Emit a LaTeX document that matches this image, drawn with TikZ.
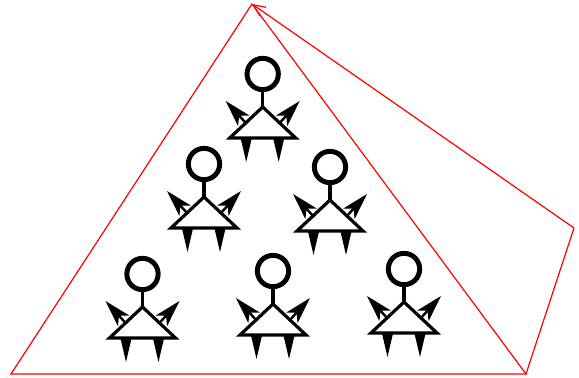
\documentclass[tikz,border=0pt]{standalone}
\usetikzlibrary{arrows.meta}
\tikzset{
    headdot/.style={circle,draw=black,line width=3.7pt,minimum size=23.5pt,inner sep=0pt},
    bodyline/.style={black,line width=2.4pt,line join=miter},
    limbarrow/.style={-{Stealth[length=20pt,width=11.5pt,inset=5pt]},black,line width=1.8pt},
    legarrow/.style={-{Stealth[length=17.5pt,width=8pt,inset=0.5pt]},black,line width=1pt},
    boundary/.style={red,line width=0.9pt,line join=miter}
}
\begin{document}
\begin{tikzpicture}[x=0.75pt,y=-0.75pt]
    \useasboundingbox (0,0) rectangle (579,378);
    % people
    \foreach \px/\py [count=\i] in {262.7/74,204/164,330/167,142.5/274,273/271,404/269} {
        \begin{scope}[shift={(\px,\py)}]
            \node[headdot] (head\i) at (0,0) {};
            \coordinate (neck\i) at (0,33);
            \coordinate (lefthip\i) at (-33,64);
            \coordinate (righthip\i) at (33,64);
            \draw[bodyline] (head\i) -- (neck\i);
            \draw[bodyline] (neck\i) -- (lefthip\i) -- (righthip\i) -- cycle;
            \coordinate (leftarm\i) at (-16,50);
            \coordinate (lefthand\i) at (-37,27);
            \coordinate (rightarm\i) at (16,50);
            \coordinate (righthand\i) at (37,27);
            \draw[limbarrow] (leftarm\i) -- (lefthand\i);
            \draw[limbarrow] (rightarm\i) -- (righthand\i);
            \coordinate (leftleg\i) at (-16.5,64);
            \coordinate (leftfoot\i) at (-16.5,88);
            \coordinate (rightleg\i) at (16,64);
            \coordinate (rightfoot\i) at (16,88);
            \draw[legarrow] (leftleg\i) -- (leftfoot\i);
            \draw[legarrow] (rightleg\i) -- (rightfoot\i);
        \end{scope}
    }
    % boundary
    \coordinate (top) at (252,4);
    \coordinate (bottomleft) at (11,374);
    \coordinate (bottomright) at (526,374);
    \coordinate (farright) at (574,228);
    \draw[boundary] (top) -- (bottomleft) -- (bottomright) -- cycle;
    \draw[boundary] (bottomright) -- (farright);
    \draw[boundary,-{Straight Barb[length=9pt,width=8pt]}] (farright) -- (top);
\end{tikzpicture}
\end{document}
